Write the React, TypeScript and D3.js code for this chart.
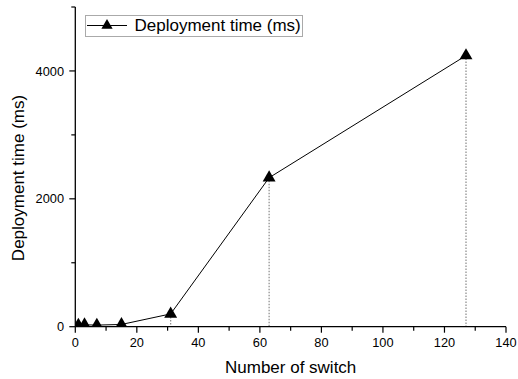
import { useEffect, useRef } from 'react'
import * as d3 from 'd3'

// switch counts and deployment time (ms)
const switches = [1, 3, 7, 15, 31, 63, 127]
const deployMs = [25, 30, 25, 35, 200, 2330, 4240]
const droplines = [31, 63, 127]
const xTicks = [0, 20, 40, 60, 80, 100, 120, 140]
const xMinor = [10, 30, 50, 70, 90, 110, 130]
const yTicks = [0, 2000, 4000]
const yMinor = [1000, 3000, 5000]
const seriesName = 'Deployment time (ms)'

export default function App() {
  const svgRef = useRef<SVGSVGElement>(null)

  useEffect(() => {
    const W = 518, H = 379
    const svg = d3.select(svgRef.current)
    svg.selectAll('*').remove()
    svg.attr('width', W).attr('height', H).style('background', '#fff')

    const font = 'Liberation Sans, Arial, sans-serif'
    const x = d3.scaleLinear().domain([0, 140]).range([75.3, 506])
    const y = d3.scaleLinear().domain([0, 5000]).range([326.7, 7])

    // clip so markers sitting on zero get cut at the axis
    svg.append('defs').append('clipPath').attr('id', 'plot')
      .append('rect').attr('x', x(0)).attr('y', 0).attr('width', x(140) - x(0) + 10).attr('height', y(0))

    const g = svg.append('g').attr('clip-path', 'url(#plot)')

    // drop lines
    droplines.forEach(s => {
      const v = deployMs[switches.indexOf(s)]
      g.append('line').attr('x1', x(s)).attr('x2', x(s)).attr('y1', y(v)).attr('y2', y(0))
        .attr('stroke', '#888').attr('stroke-width', 1.2).attr('stroke-dasharray', '1.5,1.5')
    })

    const data = switches.map((s, i) => [s, deployMs[i]] as [number, number])
    g.append('path').datum(data)
      .attr('d', d3.line().x(d => x(d[0])).y(d => y(d[1])))
      .attr('fill', 'none').attr('stroke', '#000').attr('stroke-width', 1)

    const tri = d3.symbol().type(d3.symbolTriangle).size(72)
    data.forEach(d => {
      g.append('path').attr('d', tri()).attr('transform', `translate(${x(d[0])},${y(d[1])})`).attr('fill', '#000')
    })

    // axes
    const ax = svg.append('g')
    ax.append('line').attr('x1', x(0)).attr('x2', x(140)).attr('y1', y(0)).attr('y2', y(0)).attr('stroke', '#000').attr('stroke-width', 1.3)
    ax.append('line').attr('x1', x(0)).attr('x2', x(0)).attr('y1', y(0)).attr('y2', y(5000)).attr('stroke', '#000').attr('stroke-width', 1.3)

    xTicks.forEach(v => {
      ax.append('line').attr('x1', x(v)).attr('x2', x(v)).attr('y1', y(0)).attr('y2', y(0) + 6).attr('stroke', '#000').attr('stroke-width', 1.2)
      ax.append('text').attr('x', x(v)).attr('y', 347).attr('text-anchor', 'middle').attr('font-family', font).attr('font-size', 12.8).text(v)
    })
    xMinor.forEach(v => {
      ax.append('line').attr('x1', x(v)).attr('x2', x(v)).attr('y1', y(0)).attr('y2', y(0) + 4).attr('stroke', '#000').attr('stroke-width', 1.2)
    })
    yTicks.forEach(v => {
      ax.append('line').attr('x1', x(0)).attr('x2', x(0) - 6).attr('y1', y(v)).attr('y2', y(v)).attr('stroke', '#000').attr('stroke-width', 1.2)
      ax.append('text').attr('x', 64).attr('y', y(v)).attr('dy', '0.36em').attr('text-anchor', 'end').attr('font-family', font).attr('font-size', 12.8).text(v)
    })
    yMinor.forEach(v => {
      ax.append('line').attr('x1', x(0)).attr('x2', x(0) - 4).attr('y1', y(v)).attr('y2', y(v)).attr('stroke', '#000').attr('stroke-width', 1.2)
    })

    // axis titles
    svg.append('text').attr('x', (x(0) + x(140)) / 2).attr('y', 373).attr('text-anchor', 'middle')
      .attr('font-family', font).attr('font-size', 17).text('Number of switch')
    svg.append('text').attr('transform', 'translate(23.5,178) rotate(-90)').attr('text-anchor', 'middle')
      .attr('font-family', font).attr('font-size', 17).text('Deployment time (ms)')

    // legend
    const lg = svg.append('g')
    lg.append('rect').attr('x', 85.5).attr('y', 15.5).attr('width', 217).attr('height', 21)
      .attr('fill', '#fff').attr('stroke', '#aaa').attr('stroke-width', 1)
    lg.append('line').attr('x1', 87).attr('x2', 127).attr('y1', 25.5).attr('y2', 25.5).attr('stroke', '#000').attr('stroke-width', 1)
    lg.append('path').attr('d', d3.symbol().type(d3.symbolTriangle).size(55)()).attr('transform', 'translate(107,25.5)').attr('fill', '#000')
    lg.append('text').attr('x', 134.5).attr('y', 31).attr('font-family', font).attr('font-size', 17).text(seriesName)
  }, [])

  return (
    <div style={{ position: 'absolute', left: 0, top: 0 }}>
      <svg ref={svgRef} style={{ display: 'block' }} />
    </div>
  )
}
